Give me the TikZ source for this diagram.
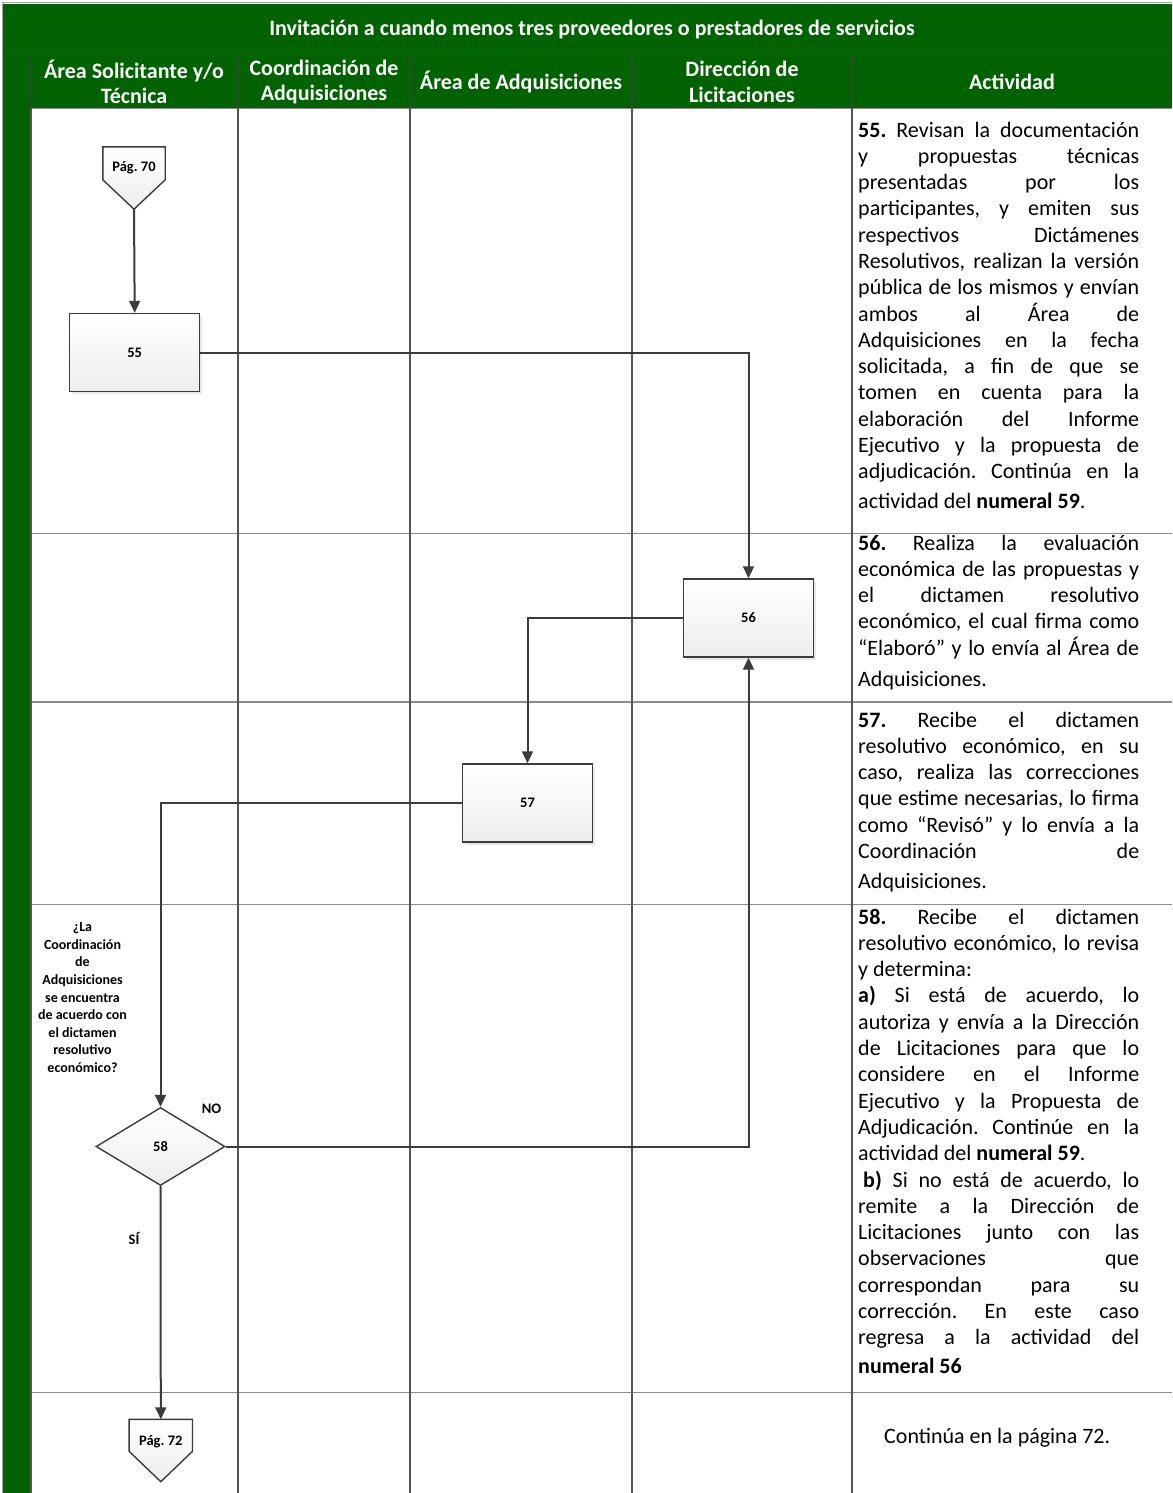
\documentclass[tikz,border=0pt]{standalone}
\usepackage{fontspec}
\setmainfont{Carlito}
\usetikzlibrary{arrows.meta,shapes.geometric,shadows,calc}
\definecolor{hdr}{RGB}{0,98,0}
\definecolor{hdrline}{RGB}{45,75,45}
\definecolor{gridc}{RGB}{85,85,85}
\definecolor{rowc}{RGB}{140,140,140}
\definecolor{linec}{RGB}{60,60,60}
\frenchspacing
\newlength{\cw}\setlength{\cw}{281pt}
\newcommand{\nsp}{\spaceskip=0pt\xspaceskip=0pt\relax}
\newcommand{\JL}[1]{\makebox[\cw][s]{\nsp #1}}
\begin{document}
\begin{tikzpicture}[x=1pt,y=-1pt,
  hd/.style={text=white,font=\bfseries\fontsize{22pt}{25.5pt}\selectfont,align=center,inner sep=0},
  act/.style={inner sep=0,text width=\cw,align=left,anchor=base west,font=\fontsize{22pt}{26.3pt}\selectfont},
  pbox/.style={draw=linec,line width=1.4pt,top color=white,bottom color=gray!14,minimum width=130pt,minimum height=78pt,inner sep=0,
     drop shadow={opacity=0.18,shadow xshift=2.5pt,shadow yshift=-2.5pt},font=\bfseries\fontsize{14.5pt}{17pt}\selectfont},
  lbl/.style={inner sep=0,font=\bfseries\fontsize{14.5pt}{17pt}\selectfont},
  conn/.style={draw=linec,line width=2pt,-{Triangle[length=12pt,width=11pt]}},
  pent/.style={draw=linec,line width=1.4pt,top color=white,bottom color=gray!14}]
\useasboundingbox (0,0) rectangle (1172,1493);
\fill[white] (0,0) rectangle (1172,1493);
% green title, header and side strip
\fill[hdr] (3,4) rectangle (1172,108);
\fill[hdr] (3,108) rectangle (31,1493);
\draw[gray!70,line width=1pt] (2,3) -- (1172,3);
\draw[gray!70,line width=1pt] (2,3) -- (2,1493);
\draw[hdrline,line width=1.2pt] (3,55.5) -- (1172,55.5);
\foreach \xx in {30.5,238,410,632,852}{\draw[hdrline,line width=1.2pt] (\xx,55.5) -- (\xx,108);}
% grid
\foreach \yy in {533.5,702,904.5,1392.5}{\draw[rowc,line width=1.8pt] (31,\yy) -- (1172,\yy);}
\draw[rowc,line width=1.5pt] (31,108.5) -- (1172,108.5);
\foreach \xx in {238,410,632,852}{\draw[gridc,line width=1.5pt] (\xx,108) -- (\xx,1493);}
\draw[gridc,line width=1.2pt] (31,108) -- (31,1493);
% headers
\node[hd] (title) at (592,30) {\nsp Invitación a cuando menos tres proveedores o prestadores de servicios};
\node[hd] (h1) at (134,82) {\nsp Área Solicitante y/o\\Técnica};
\node[hd] (h2) at (324,82) {\nsp Coordinación de\\Adquisiciones};
\node[hd] (h3) at (521,82) {\nsp Área de Adquisiciones};
\node[hd] (h4) at (742,82) {\nsp Dirección de\\Licitaciones};
\node[hd] (h5) at (1012,82) {Actividad};
% activity texts
\node[act] (t55) at (858,137) {\nsp
\JL{\textbf{55.} Revisan la documentación}\\
\JL{y propuestas técnicas}\\
\JL{presentadas por los}\\
\JL{participantes, y emiten sus}\\
\JL{respectivos Dictámenes}\\
\JL{Resolutivos, realizan la versión}\\
\JL{pública de los mismos y envían}\\
\JL{ambos al Área de}\\
\JL{Adquisiciones en la fecha}\\
\JL{solicitada, a fin de que se}\\
\JL{tomen en cuenta para la}\\
\JL{elaboración del Informe}\\
\JL{Ejecutivo y la propuesta de}\\
\JL{adjudicación. Continúa en la}\\[3.7pt]
actividad del \textbf{numeral 59}.};
\node[act] (t56) at (858,550) {\nsp
\JL{\textbf{56.} Realiza la evaluación}\\
\JL{económica de las propuestas y}\\
\JL{el dictamen resolutivo}\\
\JL{económico, el cual firma como}\\
\JL{“Elaboró” y lo envía al Área de}\\[4.5pt]
Adquisiciones.};
\node[act] (t57) at (858,727) {\nsp
\JL{\textbf{57.} Recibe el dictamen}\\
\JL{resolutivo económico, en su}\\
\JL{caso, realiza las correcciones}\\
\JL{que estime necesarias, lo firma}\\
\JL{como “Revisó” y lo envía a la}\\
\JL{Coordinación de}\\[3.7pt]
Adquisiciones.};
\node[act] (t58) at (858,924) {\nsp
\JL{\textbf{58.} Recibe el dictamen}\\
\JL{resolutivo económico, lo revisa}\\
y determina:\\
\JL{\textbf{a)} Si está de acuerdo, lo}\\
\JL{autoriza y envía a la Dirección}\\
\JL{de Licitaciones para que lo}\\
\JL{considere en el Informe}\\
\JL{Ejecutivo y la Propuesta de}\\
\JL{Adjudicación. Continúe en la}\\
actividad del \textbf{numeral 59}.\\
\hspace*{5pt}\makebox[\dimexpr\cw-5pt][s]{\nsp\textbf{b)} Si no está de acuerdo, lo}\\
\JL{remite a la Dirección de}\\
\JL{Licitaciones junto con las}\\
\JL{observaciones que}\\
\JL{correspondan para su}\\
\JL{corrección. En este caso}\\
\JL{regresa a la actividad del}\\[2pt]
\textbf{numeral 56}};
\node[inner sep=0,anchor=base west,font=\fontsize{22pt}{26.3pt}\selectfont] (t72) at (884,1443) {Continúa en la página 72.};
% flow shapes
\node[inner sep=0,minimum width=62pt,minimum height=62pt] (p70) at (134,178) {};
\path[pent] (p70.north west) -- (p70.north east) -- ($(p70.north east)+(0,33)$) -- (p70.south) -- ($(p70.north west)+(0,33)$) -- cycle;
\node[lbl] (p70t) at (134,168) {Pág. 70};
\node[pbox] (b55) at (134.7,352.5) {55};
\node[pbox] (b56) at (748.5,618) {56};
\node[pbox] (b57) at (527.5,803) {57};
\node[diamond,draw=linec,line width=1.4pt,top color=white,bottom color=gray!14,aspect=1.65,minimum width=129pt,minimum height=78pt,inner sep=0,font=\bfseries\fontsize{14.5pt}{17pt}\selectfont] (d58) at (160.5,1146.5) {58};
\node[inner sep=0,minimum width=63pt,minimum height=62pt] (p72) at (160.8,1450.5) {};
\path[pent] (p72.north west) -- (p72.north east) -- ($(p72.north east)+(0,32)$) -- (p72.south) -- ($(p72.north west)+(0,32)$) -- cycle;
\node[lbl] (p72t) at (160.8,1442) {Pág. 72};
\node[inner sep=0,align=center,font=\bfseries\fontsize{14pt}{17.6pt}\selectfont] (q58) at (82.5,997.5) {\nsp ¿La\\Coordinación\\de\\Adquisiciones\\se encuentra\\de acuerdo con\\el dictamen\\resolutivo\\económico?};
\node[lbl] (no) at (211.5,1109) {NO};
\node[lbl] (si) at (134,1238) {SÍ};
% connectors
\draw[conn] (p70.south) -- (b55.north);
\draw[conn] (b55.east) -| (b56.north);
\draw[conn] (b56.west) -| (b57.north);
\draw[conn] (b57.west) -| (d58.north);
\draw[conn] (d58.east) -| (b56.south);
\draw[conn] (d58.south) -- (p72.north);
\end{tikzpicture}
\end{document}
